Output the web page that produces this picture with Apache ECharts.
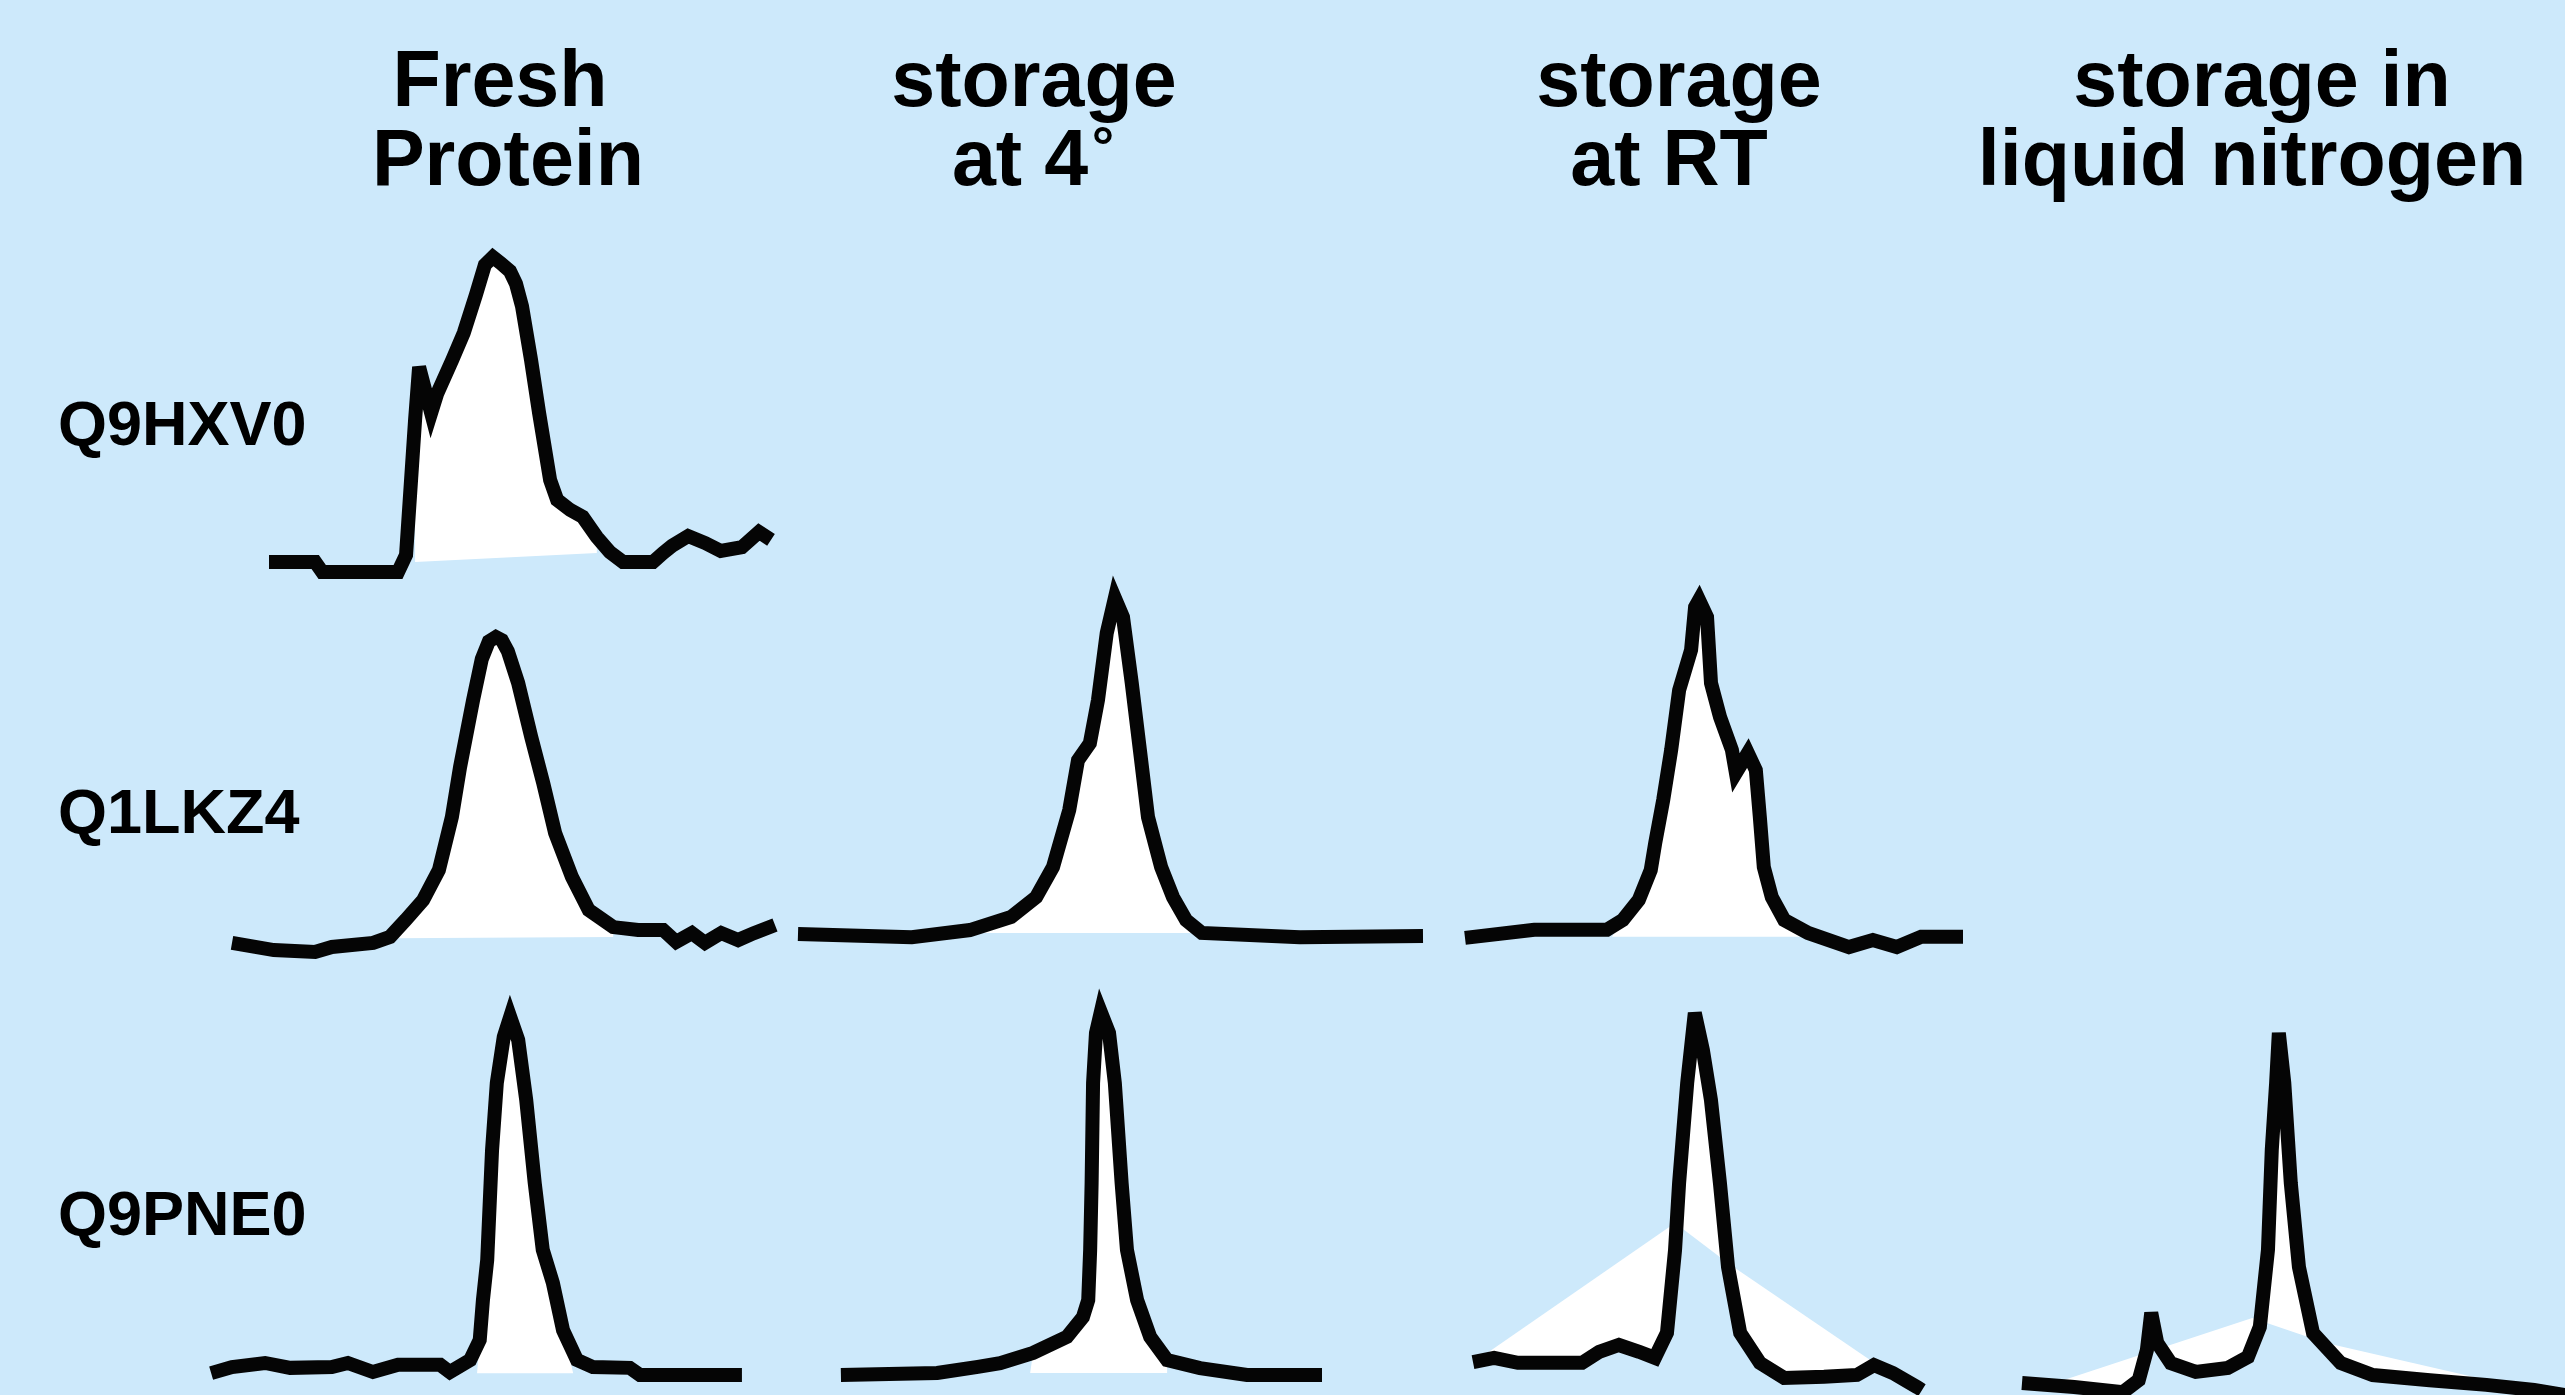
<!DOCTYPE html>
<html>
<head>
<meta charset="utf-8">
<title>Protein stability - SEC profiles</title>
<script src="https://cdn.jsdelivr.net/npm/echarts@6/dist/echarts.min.js"></script>
<style>
  html, body { margin: 0; padding: 0; background: #cde9fb; }
  #chart { width: 2565px; height: 1395px; }
</style>
</head>
<body>
<div id="chart"></div>
<script>
// headings
const conditions = [['Fresh', 'Protein'], ['storage', 'at 4'], ['storage', 'at RT'], ['storage in', 'liquid nitrogen']];
const proteins = ['Q9HXV0', 'Q1LKZ4', 'Q9PNE0'];

// elution traces: [relative elution position 0-100, absorbance % of peak]
const q9hxv0Fresh = [[0,3.2],[9.2,3.2],[10.6,0],[25.7,0],[27.3,5.4],[29.1,48.3],[29.9,65.1],[31.1,57.8],[32.3,50.5],[33.5,56.6],[36.5,67.3],[38.8,75.9],[41.2,87.9],[43.0,97.5],[44.6,100],[46.2,98.0],[48.0,95.5],[49.2,91.5],[50.4,84.4],[52.2,67.3],[53.8,50.5],[56.0,29.2],[57.4,22.9],[60.0,19.7],[62.5,17.5],[65.3,11.1],[67.9,6.3],[70.5,3.2],[76.5,3.2],[78.5,6.0],[80.3,8.3],[83.5,11.4],[86.9,9.2],[90.0,6.7],[94.2,7.9],[97.6,12.7],[100,10.2]];
const q1lkz4Fresh = [[0,2.9],[7.7,0.6],[15.3,0],[18.4,1.6],[26.0,2.9],[29.1,4.8],[32.0,10.2],[35.2,16.5],[38.1,26.0],[40.5,42.9],[42.0,58.7],[44.4,80.0],[46.0,93.0],[47.3,98.6],[48.6,100],[49.7,99.0],[50.8,95.5],[52.7,85.4],[55.1,68.3],[57.3,53.7],[59.5,37.8],[62.6,23.8],[65.7,13.3],[70.2,7.9],[74.8,7.0],[79.4,7.0],[81.8,3.2],[84.7,6.0],[87.1,2.9],[90.1,6.0],[93.2,3.8],[96.1,6.0],[100,8.6]];
const q1lkz4Cold = [[0,5.1],[18.2,4.2],[27.5,6.2],[34.1,9.9],[38.1,15.5],[40.8,24.0],[43.4,40.1],[44.8,54.2],[46.7,59.0],[48.0,71.2],[49.4,90.1],[50.7,100],[52.0,94.6],[53.4,76.0],[54.7,57.1],[56.0,38.1],[58.1,24.0],[60.0,15.5],[62.1,9.0],[64.6,5.4],[80.3,4.2],[100,4.5]];
const q1lkz4Rt = [[0,4.0],[13.9,6.3],[28.5,6.3],[31.7,9.1],[34.9,14.8],[37.3,23.3],[38.2,31.0],[39.8,43.2],[41.4,57.4],[43.0,74.4],[45.4,85.8],[46.2,98.0],[47.0,100],[48.6,95.2],[49.4,76.4],[51.2,66.8],[53.6,57.4],[54.4,50.9],[56.8,56.5],[58.4,51.7],[59.2,38.4],[60.0,24.1],[61.6,15.6],[64.1,9.1],[68.9,5.4],[77.1,1.4],[81.9,3.4],[86.7,1.4],[91.6,4.3],[100,4.3]];
const q9pne0Fresh = [[0.4,5.0],[4.3,6.6],[10.5,7.7],[15.2,6.4],[23.0,6.6],[26.0,7.7],[30.7,5.3],[35.4,7.2],[43.3,7.2],[45.1,5.3],[48.9,8.5],[50.7,13.8],[51.3,24.4],[52.1,35.0],[53.0,64.0],[53.9,82.0],[55.2,94.2],[56.4,99.5],[57.9,93.4],[59.4,77.5],[61.0,55.4],[62.5,37.7],[64.4,28.9],[66.3,16.4],[68.9,8.5],[71.9,6.6],[78.8,6.4],[80.7,4.5],[88.2,4.5],[99.8,4.5]];
const q9pne0Cold = [[0.6,4.5],[20.5,5.0],[28.9,6.6],[33.5,7.6],[40.3,10.3],[47.3,14.5],[50.6,19.7],[51.7,24.2],[52.1,37.4],[52.4,55.0],[52.7,81.3],[53.3,94.5],[54.3,100],[56.0,94.5],[57.2,81.3],[58.6,55.0],[59.7,37.4],[61.8,24.2],[64.5,14.5],[68.0,8.4],[74.8,6.3],[84.5,4.5],[100,4.5]];
const q9pne0Rt = [[0,7.9],[4.7,9.0],[10.0,7.7],[24.3,7.7],[28.1,10.6],[32.5,12.4],[37.0,10.6],[40.5,9.0],[43.2,15.6],[45.0,37.5],[45.9,55.1],[47.7,81.5],[49.4,100],[51.2,90.2],[53.0,77.0],[55.0,55.1],[56.8,33.0],[59.5,15.6],[63.9,7.7],[69.3,3.7],[78.2,4.0],[85.5,4.5],[89.3,7.1],[93.5,5.0],[98.9,1.3],[100,0.5]];
const q9pne0N2 = [[0,3.3],[9.6,2.2],[18.6,0.8],[21.5,4.1],[23.0,12.4],[23.8,22.7],[24.9,14.4],[27.4,8.8],[32.0,6.4],[37.9,7.5],[41.6,10.5],[43.8,18.8],[45.3,40.1],[46.0,67.7],[46.8,86.2],[47.3,100],[48.3,86.2],[49.5,58.6],[51.0,35.4],[53.6,17.1],[58.7,8.8],[64.6,5.5],[75.1,4.1],[85.5,2.8],[94.3,1.4],[100,0]];

// integrated peak areas: outline from left to right, closed back along the trace
const q9hxv0FreshArea = [[29.1,3.2],[65.3,6.0]];
const q1lkz4FreshArea = [[29.1,4.4],[70.2,4.8]];
const q1lkz4ColdArea = [[27.5,5.4],[64.6,5.4]];
const q1lkz4RtArea = [[29.5,4.3],[68.9,4.3]];
const q9pne0FreshArea = [[50.2,5.0],[68.2,5.0]];
const q9pne0ColdArea = [[39.7,5.0],[68.0,5.0]];
const q9pne0RtArea = [[1.8,9.2],[45.0,44.6],[56.8,34.0],[89.1,7.9]];
const q9pne0N2Area = [[6.6,3.6],[42.4,21.3],[55.8,14.4],[93.6,1.4]];

const panels = [
  { trace: q9hxv0Fresh, area: q9hxv0FreshArea },
  { trace: q1lkz4Fresh, area: q1lkz4FreshArea },
  { trace: q1lkz4Cold, area: q1lkz4ColdArea },
  { trace: q1lkz4Rt, area: q1lkz4RtArea },
  { trace: q9pne0Fresh, area: q9pne0FreshArea },
  { trace: q9pne0Cold, area: q9pne0ColdArea },
  { trace: q9pne0Rt, area: q9pne0RtArea },
  { trace: q9pne0N2, area: q9pne0N2Area }
];

// panel boxes on the page [left, top, width, height]
const boxes = [
  [269, 257, 502, 315],
  [232, 637, 543, 315],
  [798, 598, 625, 354],
  [1465, 600, 498, 352],
  [209, 1015, 534, 377],
  [838, 1012, 484, 380],
  [1473, 1013, 449, 379],
  [2022, 1033, 543, 362]
];

const headFont = 'bold 79px "Liberation Sans", Arial, sans-serif';
const labelFont = 'bold 63px "Liberation Sans", Arial, sans-serif';
const headX = [[500, 508], [1034, 1020], [1679, 1669], [2262, 2252]];
const headY = [84, 163];
const labelY = [428, 816, 1218];

function areaPolygon(trace, edge) {
  const x0 = edge[0][0], x1 = edge[edge.length - 1][0];
  const inside = trace.filter(p => p[0] >= x0 && p[0] <= x1).reverse();
  return edge.concat(inside);
}

const chart = echarts.init(document.getElementById('chart'));

let grids = [], xAxes = [], yAxes = [], series = [];
panels.forEach((p, i) => {
  const b = boxes[i];
  grids.push({ left: b[0], top: b[1], width: b[2], height: b[3] });
  xAxes.push({ type: 'value', gridIndex: i, min: 0, max: 100, show: false });
  yAxes.push({ type: 'value', gridIndex: i, min: 0, max: 100, show: false });
  const poly = areaPolygon(p.trace, p.area);
  series.push({
    type: 'custom',
    xAxisIndex: i,
    yAxisIndex: i,
    silent: true,
    z: 1,
    data: poly,
    renderItem: (params, api) => {
      if (params.dataIndex !== 0) return null;
      return {
        type: 'polygon',
        shape: { points: poly.map(v => api.coord(v)) },
        style: { fill: '#ffffff' }
      };
    }
  });
  series.push({
    type: 'line',
    xAxisIndex: i,
    yAxisIndex: i,
    data: p.trace,
    symbol: 'none',
    silent: true,
    clip: false,
    z: 2,
    lineStyle: { color: '#050505', width: 14, join: 'miter', miterLimit: 6, cap: 'butt' }
  });
});

let graphics = [];
conditions.forEach((lines, c) => {
  lines.forEach((t, k) => {
    graphics.push({
      type: 'text', x: headX[c][k], y: headY[k], silent: true,
      style: { text: t, font: headFont, fill: '#000', align: 'center', verticalAlign: 'middle' }
    });
  });
});
// degree sign after "at 4"
graphics.push({
  type: 'text', x: 1103, y: 151, silent: true,
  style: { text: '°', font: 'bold 56px "Liberation Sans", Arial, sans-serif', fill: '#000', align: 'center', verticalAlign: 'middle' }
});
proteins.forEach((name, r) => {
  graphics.push({
    type: 'text', x: 58, y: labelY[r], silent: true,
    style: { text: name, font: labelFont, fill: '#000', align: 'left', verticalAlign: 'middle' }
  });
});

chart.setOption({
  backgroundColor: '#cde9fb',
  animation: false,
  grid: grids,
  xAxis: xAxes,
  yAxis: yAxes,
  series: series,
  graphic: graphics
});
</script>
</body>
</html>
